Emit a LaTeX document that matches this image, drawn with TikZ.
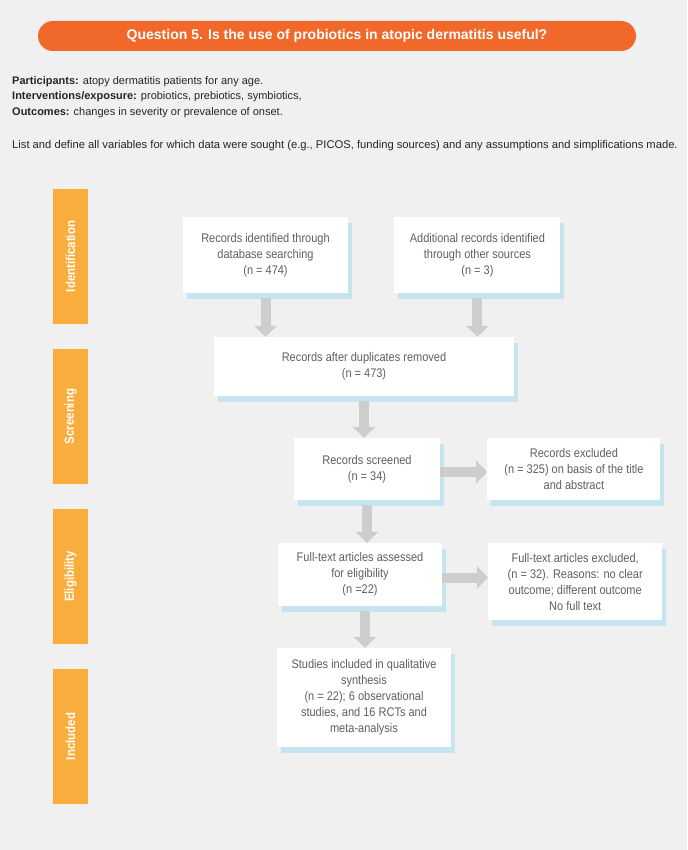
\documentclass[tikz,border=0pt]{standalone}
\usepackage{fontspec}
\setmainfont{Liberation Sans}
\newfontfamily\narrowfont{Liberation Sans}[FakeStretch=0.88]
\usepackage{tikz}
\usetikzlibrary{arrows.meta,shapes,positioning,shadows}
\usepackage{xcolor}
\definecolor{pgback}{RGB}{240,240,240}
\definecolor{pgtitle}{RGB}{241,105,42}
\definecolor{pgphase}{RGB}{249,173,60}
\definecolor{pgshadow}{RGB}{196,228,240}
\definecolor{pgarrow}{RGB}{205,205,205}
\definecolor{pgtext}{RGB}{95,95,95}
\tikzstyle{garrow} = [line width=10pt, color=pgarrow, -{Triangle[width=22pt,length=11pt]}]
\tikzstyle{record} = [rectangle, fill=white, text=pgtext, align=center, inner sep=2pt, font=\narrowfont\fontsize{12.5}{16}\selectfont, drop shadow={shadow xshift=4pt, shadow yshift=-6pt, fill=pgshadow, opacity=1}]
\tikzstyle{phase} = [rectangle, fill=pgphase, text=white, rotate=90, minimum width=135pt, minimum height=35pt, font=\narrowfont\fontsize{13}{14}\selectfont\bfseries]

\begin{document}
\begin{tikzpicture}[x=1pt, y=-1pt]
\fill[pgback] (0,0) rectangle (687,850);
\useasboundingbox (0,0) rectangle (687,850);

% Header
\node (title) [rectangle, rounded corners=15pt, fill=pgtitle, text=white, minimum width=598pt, minimum height=30pt, font=\fontsize{14}{16}\selectfont\bfseries] at (337,36) {Question 5. Is the use of probiotics in atopic dermatitis useful?};
\node (picos) [anchor=north west, align=left, inner sep=0pt, text=black!85, font=\fontsize{11}{15.5}\selectfont] at (12,76)
  {\textbf{Participants:} atopy dermatitis patients for any age.\\
   \textbf{Interventions/exposure:} probiotics, prebiotics, symbiotics,\\
   \textbf{Outcomes:} changes in severity or prevalence of onset.};
\node (listdef) [anchor=base west, inner sep=0pt, text=black!85, font=\fontsize{11.2}{13}\selectfont] at (12,149) {List and define all variables for which data were sought (e.g., PICOS, funding sources) and any assumptions and simplifications made.};

% Phases
\node (ident) [phase] at (70.5,256.5) {Identification};
\node (screen) [phase] at (70.5,416.5) {Screening};
\node (elig) [phase] at (70.5,576.5) {Eligibility};
\node (incl) [phase] at (70.5,736.5) {Included};

% Records
\node (dbsearch) [record, minimum width=165pt, minimum height=76pt] at (265.5,255) {Records identified through\\database searching\\(n = 474)};
\node (other) [record, right=46pt of dbsearch, minimum width=166pt, minimum height=76pt] {Additional records identified\\through other sources\\(n = 3)};
\node (dupl) [record, minimum width=300pt, minimum height=59pt] at (364,366.5) {Records after duplicates removed\\(n = 473)};
\node (screened) [record, minimum width=146pt, minimum height=62pt] at (367,469) {Records screened\\(n = 34)};
\node (excluded) [record, right=47pt of screened, minimum width=173pt, minimum height=62pt] {Records excluded\\(n = 325) on basis of the title\\and abstract};
\node (fulltext) [record, minimum width=164pt, minimum height=63pt] at (360,574.5) {Full-text articles assessed\\for eligibility\\(n =22)};
\node (ftexcl) [record, anchor=north west, minimum width=174pt, minimum height=77pt] at (488,543) {Full-text articles excluded,\\(n = 32). Reasons: no clear\\outcome; different outcome\\No full text};
\node (studies) [record, minimum width=174pt, minimum height=99pt] at (364,697.5) {Studies included in qualitative\\synthesis\\(n = 22); 6 observational\\studies, and 16 RCTs and\\meta-analysis};

% Flows
\draw[garrow, shorten <=5pt] (dbsearch.south) -- (dbsearch.south |- dupl.north);
\draw[garrow, shorten <=5pt] (other.south) -- (other.south |- dupl.north);
\draw[garrow, shorten <=5pt] (dupl.south) -- (dupl.south |- screened.north);
\draw[garrow] ([yshift=-3pt]screened.east) -- ([yshift=-3pt]screened.east -| excluded.west);
\draw[garrow, shorten <=5pt] (screened.south) -- (screened.south |- fulltext.north);
\draw[garrow] ([yshift=-3pt]fulltext.east) -- ([yshift=-3pt]fulltext.east -| ftexcl.west);
\draw[garrow, shorten <=5pt] ([xshift=5pt]fulltext.south) -- ([xshift=5pt]fulltext.south |- studies.north);
\end{tikzpicture}
\end{document}
